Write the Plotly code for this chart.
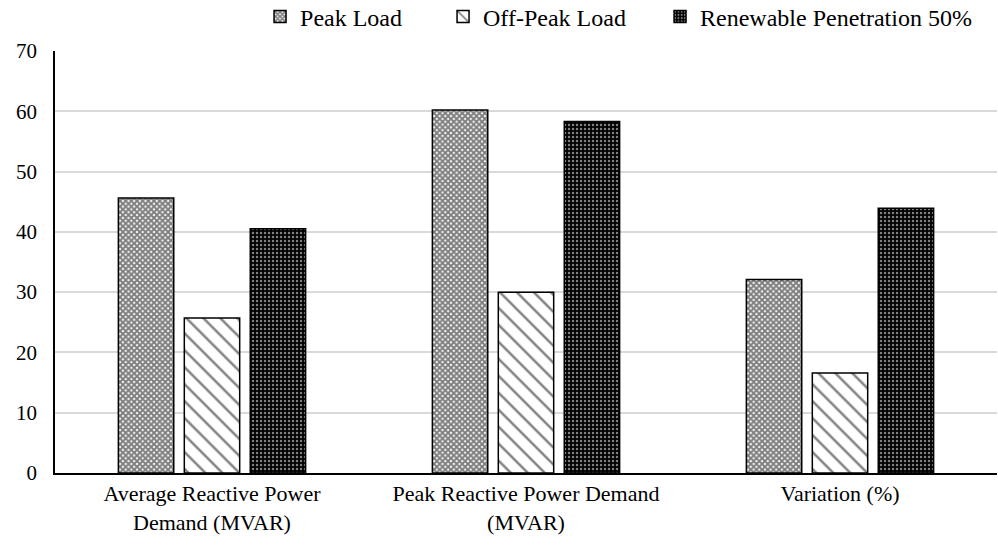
import plotly.graph_objects as go

categories = ["Average Reactive Power<br>Demand (MVAR)", "Peak Reactive Power Demand<br>(MVAR)", "Variation (%)"]
series_names = ["Peak Load", "Off-Peak Load", "Renewable Penetration 50%"]
peak_load = [45.6, 60.2, 32.1]
off_peak_load = [25.7, 30.0, 16.6]
renewable_50 = [40.5, 58.3, 43.9]

fig = go.Figure()
fig.add_trace(go.Bar(
    name=series_names[0], x=categories, y=peak_load, legendwidth=138,
    marker=dict(color="white", line=dict(color="black", width=1.5),
                pattern=dict(shape="x", fgcolor="black", bgcolor="white", size=4, solidity=0.75)),
))
fig.add_trace(go.Bar(
    name=series_names[1], x=categories, y=off_peak_load, legendwidth=172,
    marker=dict(color="white", line=dict(color="black", width=1.5),
                pattern=dict(shape="\\", fgcolor="black", bgcolor="white", size=12, solidity=0.2)),
))
fig.add_trace(go.Bar(
    name=series_names[2], x=categories, y=renewable_50,
    marker=dict(color="black", line=dict(color="black", width=1.5),
                pattern=dict(shape=".", fgcolor="white", bgcolor="black", size=4, solidity=0.3)),
))

font_family = "Liberation Serif"
fig.update_layout(
    width=998, height=545,
    margin=dict(l=55, r=1, t=51, b=72),
    paper_bgcolor="white", plot_bgcolor="white",
    font=dict(family=font_family, size=22, color="black"),
    barmode="group", bargap=0.37, bargroupgap=0.16,
    showlegend=True,
    legend=dict(orientation="h", xref="container", yref="container",
                x=0.979, xanchor="right", y=0.969, yanchor="middle",
                font=dict(family=font_family, size=24), tracegroupgap=0,
                bgcolor="rgba(0,0,0,0)"),
    xaxis=dict(showline=True, linecolor="black", linewidth=1.5, ticks="", showgrid=False,
               tickfont=dict(family=font_family, size=22), automargin=False),
    yaxis=dict(range=[0, 70], dtick=10, showline=True, linecolor="black", linewidth=1.5,
               showgrid=True, gridcolor="#d9d9d9", gridwidth=2, ticks="", zeroline=False,
               tickfont=dict(family=font_family, size=21), ticklabelstandoff=12, automargin=False),
)
fig.write_html("out.html", config={"displayModeBar": False},
               post_script="document.body.style.margin='0px';")
